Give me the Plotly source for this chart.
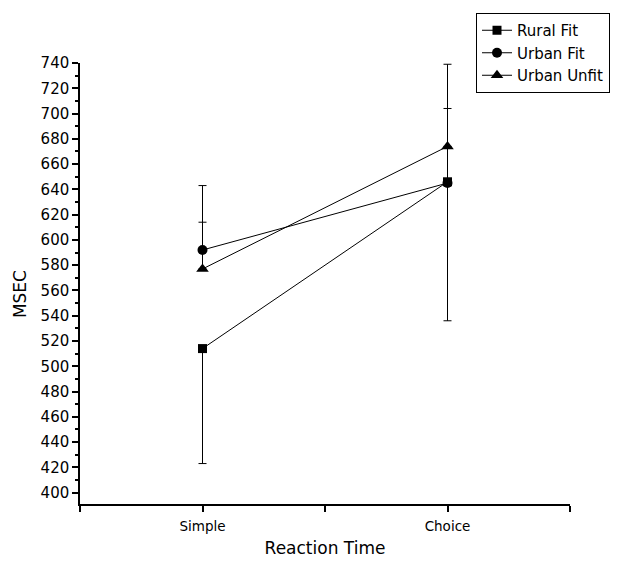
import plotly.graph_objects as go

categories = ["Simple", "Choice"]
x_pos = [0, 1]
series_names = ["Rural Fit", "Urban Fit", "Urban Unfit"]
rural_fit = [514, 646]
urban_fit = [592, 645]
urban_unfit = [577, 674]
# one-sided error bars
rural_fit_err_minus = [91, 110]
rural_fit_err_plus = [0, 0]
urban_fit_err_plus = [51, 59]
urban_fit_err_minus = [0, 0]
urban_unfit_err_plus = [37, 65]
urban_unfit_err_minus = [0, 0]

symbols = ["square", "circle", "triangle-up"]
sizes = [9, 10, 11]
vals = [rural_fit, urban_fit, urban_unfit]
plus = [rural_fit_err_plus, urban_fit_err_plus, urban_unfit_err_plus]
minus = [rural_fit_err_minus, urban_fit_err_minus, urban_unfit_err_minus]

fig = go.Figure()
for name, v, p, m, s, sz in zip(series_names, vals, plus, minus, symbols, sizes):
    fig.add_trace(go.Scatter(
        x=x_pos, y=v, name=name, mode="lines+markers",
        line=dict(color="black", width=1),
        marker=dict(symbol=s, size=sz, color="black"),
        error_y=dict(type="data", symmetric=False, array=p, arrayminus=m,
                     color="black", thickness=1, width=4),
    ))

# the page adds an 8px body margin, so the figure is 8px smaller than the window
W, H = 621, 559
font = "DejaVu Sans, sans-serif"
fig.update_layout(
    width=W, height=H,
    margin=dict(l=72, r=59, t=55, b=63, autoexpand=False),
    paper_bgcolor="white", plot_bgcolor="white",
    font=dict(family=font, color="black", size=13),
    showlegend=True,
    legend=dict(xref="container", yref="container",
                x=468 / W, y=1 - 5 / H, xanchor="left", yanchor="top",
                bordercolor="black", borderwidth=1, bgcolor="white",
                font=dict(size=15, family=font), tracegroupgap=0,
                itemwidth=30),
    annotations=[dict(text="MSEC", textangle=-90, xref="paper", yref="paper",
                      x=-60 / 490, y=0.476, xanchor="center", yanchor="middle",
                      showarrow=False, font=dict(size=17, family=font))],
)
fig.update_xaxes(
    range=[-0.5, 1.5], showgrid=False, zeroline=False, automargin=False,
    showline=True, linecolor="black", linewidth=1.5,
    tickmode="array", tickvals=[-0.5, 0, 0.5, 1, 1.5],
    ticktext=["", categories[0], "", categories[1], ""],
    ticks="outside", ticklen=6, tickcolor="black", tickwidth=1.5,
    tickfont=dict(size=13.5), ticklabelstandoff=3,
    title=dict(text="Reaction Time", font=dict(size=17), standoff=9),
)
fig.update_yaxes(
    range=[391, 740], showgrid=False, zeroline=False, automargin=False,
    showline=True, linecolor="black", linewidth=1.5,
    tickmode="linear", tick0=400, dtick=20,
    ticks="outside", ticklen=6, tickcolor="black", tickwidth=1.5,
    minor=dict(dtick=10, tick0=400, ticks="outside", ticklen=3, tickcolor="black", tickwidth=1.5),
    tickfont=dict(size=15),
)
fig.write_html("out.html")
